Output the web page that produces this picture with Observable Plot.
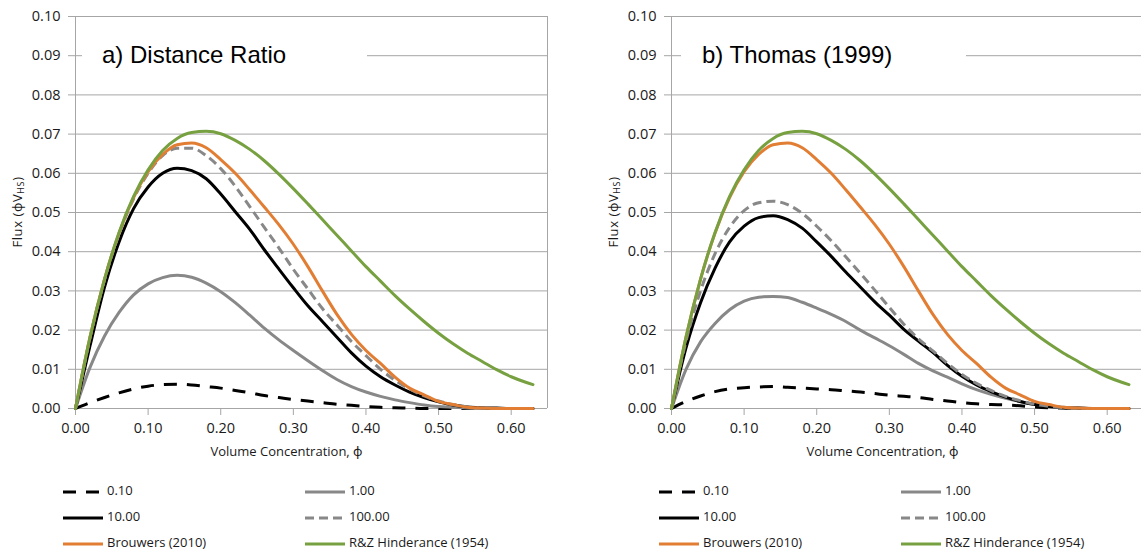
<!DOCTYPE html>
<html>
<head>
<meta charset="utf-8">
<script src="https://cdn.jsdelivr.net/npm/d3@7"></script>
<script src="https://cdn.jsdelivr.net/npm/@observablehq/plot@0.6"></script>
<style>
  html, body { margin: 0; padding: 0; background: #fff; }
  #wrap { width: 1141px; height: 554px; overflow: hidden; display: flex; }
  .panel { flex: 0 0 auto; }
  .panel svg { display: block; }
</style>
</head>
<body>
<div id="wrap"></div>
<script>
// ---- data ----
const phi = [0.00,0.02,0.04,0.06,0.08,0.10,0.12,0.14,0.16,0.18,0.20,0.22,0.24,0.26,0.28,0.30,0.32,0.34,0.36,0.38,0.40,0.42,0.44,0.46,0.48,0.50,0.52,0.54,0.56,0.58,0.60,0.62,0.63];

// shared by both panels
const brouwers = [0,0.0182,0.0330,0.0448,0.0538,0.0604,0.0648,0.0673,0.0677,0.0665,0.0635,0.0600,0.0558,0.0514,0.0469,0.0419,0.0362,0.0300,0.0240,0.0189,0.0148,0.0115,0.0080,0.0052,0.0035,0.0018,0.0010,0.0003,0.0001,0,0,0,0];
const rzHinderance = [0,0.0182,0.0330,0.0449,0.0541,0.0609,0.0658,0.0689,0.0704,0.0707,0.0701,0.0684,0.0661,0.0632,0.0598,0.0561,0.0522,0.0482,0.0442,0.0402,0.0362,0.0325,0.0288,0.0254,0.0222,0.0192,0.0165,0.0141,0.0120,0.0099,0.0081,0.0067,0.0061];

// a) Distance Ratio
const a010 = [0,0.0015,0.0028,0.0040,0.0050,0.0057,0.0061,0.0062,0.0060,0.0056,0.0052,0.0046,0.0040,0.0033,0.0028,0.0023,0.0019,0.0015,0.0011,0.0008,0.0005,0.0003,0.0002,0.0001,0,0,0,0,0,0,0,0,0];
const a1 = [0,0.0105,0.0185,0.0245,0.0290,0.0318,0.0334,0.0340,0.0335,0.0320,0.0298,0.0270,0.0238,0.0205,0.0175,0.0148,0.0122,0.0097,0.0074,0.0056,0.0042,0.0031,0.0022,0.0015,0.0009,0.0005,0.0003,0.0001,0,0,0,0,0];
const a10 = [0,0.0160,0.0310,0.0425,0.0510,0.0565,0.0600,0.0613,0.0607,0.0586,0.0547,0.0502,0.0457,0.0405,0.0356,0.0308,0.0262,0.0222,0.0182,0.0142,0.0108,0.0081,0.0060,0.0042,0.0028,0.0017,0.0009,0.0004,0.0002,0.0001,0,0,0];
const a100 = [0,0.0180,0.0328,0.0445,0.0535,0.0600,0.0645,0.0664,0.0664,0.0645,0.0612,0.0567,0.0515,0.0462,0.0410,0.0355,0.0305,0.0255,0.0213,0.0171,0.0135,0.0100,0.0072,0.0050,0.0032,0.0019,0.0010,0.0004,0.0001,0,0,0,0];

// b) Thomas (1999)
const b010 = [0,0.0018,0.0032,0.0043,0.0050,0.0053,0.0055,0.0056,0.0054,0.0052,0.0050,0.0048,0.0045,0.0042,0.0038,0.0034,0.0031,0.0028,0.0023,0.0019,0.0015,0.0012,0.0010,0.0009,0.0007,0.0004,0.0002,0.0001,0,0,0,0,0];
const b1 = [0,0.0100,0.0170,0.0217,0.0252,0.0274,0.0284,0.0286,0.0283,0.0271,0.0256,0.0240,0.0222,0.0200,0.0180,0.0160,0.0138,0.0115,0.0096,0.0080,0.0063,0.0048,0.0036,0.0026,0.0018,0.0011,0.0006,0.0003,0.0001,0,0,0,0];
const b10 = [0,0.0155,0.0270,0.0358,0.0425,0.0465,0.0487,0.0492,0.0482,0.0460,0.0425,0.0388,0.0348,0.0310,0.0272,0.0238,0.0202,0.0172,0.0143,0.0110,0.0082,0.0060,0.0043,0.0029,0.0018,0.0010,0.0005,0.0002,0.0001,0,0,0,0];
const b100 = [0,0.0172,0.0300,0.0395,0.0462,0.0505,0.0525,0.0529,0.0520,0.0498,0.0465,0.0428,0.0387,0.0345,0.0302,0.0258,0.0215,0.0178,0.0147,0.0115,0.0087,0.0064,0.0046,0.0031,0.0020,0.0011,0.0006,0.0002,0.0001,0,0,0,0];

const seriesNames = ["0.10","1.00","10.00","100.00","Brouwers (2010)","R&Z Hinderance (1954)"];
const xTicks = [0,0.1,0.2,0.3,0.4,0.5,0.6];
const yTicks = [0,0.01,0.02,0.03,0.04,0.05,0.06,0.07,0.08,0.09,0.10];
const titles = ["a) Distance Ratio","b) Thomas (1999)"];

// ---- styles ----
const styles = {
  "0.10": {stroke:"#000", dash:"13,10"},
  "1.00": {stroke:"#888", dash:null},
  "10.00": {stroke:"#000", dash:null},
  "100.00": {stroke:"#888", dash:"9,5"},
  "Brouwers (2010)": {stroke:"#E27E34", dash:null},
  "R&Z Hinderance (1954)": {stroke:"#77A140", dash:null}
};
const GRID = "#a6a6a6";
const FONT = "'Open Sans', 'Noto Sans', sans-serif";

function makeRows(lists) {
  const rows = [];
  seriesNames.forEach((name, k) => {
    lists[k].forEach((v, i) => rows.push({series: name, phi: phi[i], flux: v}));
  });
  return rows;
}

const panels = [
  {title: titles[0], rows: makeRows([a010, a1, a10, a100, brouwers, rzHinderance]), width: 570, marginLeft: 75, marginRight: 23, titleDx: 27, boxX: 7, rightBorder: true},
  {title: titles[1], rows: makeRows([b010, b1, b10, b100, brouwers, rzHinderance]), width: 573, marginLeft: 101, marginRight: 0, titleDx: 31, boxX: 10, rightBorder: false}
];

const H = 470, MT = 16, MB = 62;
const XMAX = 0.65;
const wrap = document.getElementById("wrap");

panels.forEach(p => {
  const div = document.createElement("div");
  div.className = "panel";
  div.style.width = p.width + "px";
  wrap.appendChild(div);

  const lineMarks = seriesNames.map(name => Plot.line(p.rows.filter(d => d.series === name), {
    x: "phi", y: "flux",
    stroke: styles[name].stroke,
    strokeWidth: 3,
    strokeDasharray: styles[name].dash || undefined,
    strokeLinejoin: "round",
    strokeLinecap: styles[name].dash ? "butt" : "round",
    curve: "monotone-x"
  }));

  const chart = Plot.plot({
    width: p.width, height: H,
    marginLeft: p.marginLeft, marginRight: p.marginRight, marginTop: MT, marginBottom: MB,
    style: {fontFamily: FONT, background: "#fff", overflow: "visible"},
    x: {domain: [0, XMAX]},
    y: {domain: [0, 0.10]},
    marks: [
      Plot.gridY(yTicks, {stroke: GRID, strokeOpacity: 1, strokeWidth: 1}),
      Plot.ruleX(p.rightBorder ? [0, XMAX] : [0], {stroke: GRID, strokeWidth: 1}),
      Plot.ruleY([0], {stroke: GRID, strokeWidth: 1}),
      Plot.axisY(yTicks, {tickFormat: d3.format(".2f"), tickSize: 7, tickPadding: 8, stroke: GRID, fill: "#1a1a1a", fontSize: 14.5, label: null}),
      Plot.axisX(xTicks, {tickFormat: d3.format(".2f"), tickSize: 7, tickPadding: 7, stroke: GRID, fill: "#1a1a1a", fontSize: 14.5, label: null}),
      Plot.text(["Volume Concentration, \u03D5"], {frameAnchor: "bottom", dy: 47, dx: -25, fontSize: 13, fill: "#1a1a1a"}),
      ...lineMarks
    ]
  });
  div.appendChild(chart);

  // title box (covers the 0.09 gridline like in the original) and title
  const svg = d3.select(chart);
  const x = chart.scale("x"), y = chart.scale("y");
  const left = x.apply(0);
  svg.append("rect")
    .attr("x", left + p.boxX).attr("y", y.apply(0.09) - 24)
    .attr("width", 285).attr("height", 48).attr("fill", "#fff");
  svg.append("text")
    .attr("x", left + p.titleDx).attr("y", y.apply(0.09) + 8)
    .attr("text-anchor", "start")
    .attr("font-family", "'Liberation Sans', Arial, sans-serif")
    .attr("font-size", 24).attr("fill", "#000")
    .text(p.title);

  // y axis label with subscript
  const yl = svg.append("text")
    .attr("transform", `translate(${left - 56},${(y.apply(0) + y.apply(0.1)) / 2}) rotate(-90)`)
    .attr("text-anchor", "middle").attr("dominant-baseline", "middle")
    .attr("font-family", FONT).attr("font-size", 13).attr("letter-spacing", "0.6px").attr("fill", "#1a1a1a");
  yl.append("tspan").text("Flux (\u03D5V");
  yl.append("tspan").attr("font-size", 9).attr("dy", 3).text("HS");
  yl.append("tspan").attr("dy", -3).text(")");

  // legend
  const lg = d3.select(div).append("svg").attr("width", p.width).attr("height", 84);
  seriesNames.forEach((name, k) => {
    const col = k % 2, row = Math.floor(k / 2);
    const lx = col === 0 ? left - 12 : left + 230;
    const ly = 22 + 26 * row;
    lg.append("line").attr("x1", lx).attr("x2", lx + 40).attr("y1", ly).attr("y2", ly)
      .attr("stroke", styles[name].stroke).attr("stroke-width", 3)
      .attr("stroke-dasharray", styles[name].dash);
    lg.append("text").attr("x", lx + 44).attr("y", ly).attr("dominant-baseline", "middle")
      .attr("font-family", FONT).attr("font-size", 13).attr("fill", "#1a1a1a").text(name);
  });
});
</script>
</body>
</html>
